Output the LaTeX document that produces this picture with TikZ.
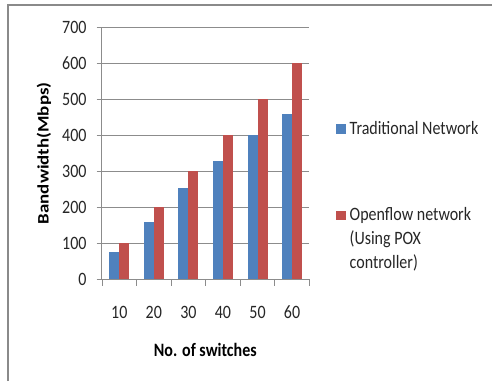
\documentclass[tikz,border=0pt]{standalone}
\usepackage{fontspec}
\setmainfont{Carlito}
\definecolor{blueb}{HTML}{4F81BD}
\definecolor{redb}{HTML}{C0504D}
\definecolor{gridc}{HTML}{8C8C8C}
\definecolor{framec}{HTML}{8A8A8A}
\newcommand{\vst}[1]{\scalebox{1}[1.18]{#1}}
\newcommand{\hst}[1]{\scalebox{1.18}[1]{#1}}
\begin{document}
\begin{tikzpicture}[x=1pt,y=-1pt,
  lbl/.style={font=\fontsize{16}{24.3}\selectfont, inner sep=0pt, text=black!85},
  ttl/.style={font=\fontsize{16}{19}\selectfont\bfseries, inner sep=0pt, text=black},
  grid line/.style={gridc, line width=0.8pt},
  bluebar/.style={fill=blueb},
  redbar/.style={fill=redb}]
\useasboundingbox (0,0) rectangle (492,381);
\fill[white] (0,0) rectangle (492,381);
\draw[framec, line width=1.6pt] (8,381) -- (8,4.8) -- (492,4.8);
% gridlines and y labels
\foreach \v in {0,100,...,700}{
  \draw[grid line] (96.5,{279.3-0.36*\v}) -- (309.3,{279.3-0.36*\v});
  \node[lbl, anchor=east] (y\v) at (86.7,{279.3-0.36*\v}) {\vst{\v}};
}
% axes
\draw[grid line] (101.5,27.3) -- (101.5,279.3);
\foreach \i in {0,...,6}{
  \draw[grid line] ({102+34.55*\i},279.3) -- ({102+34.55*\i},286);
}
% bars
\foreach \i/\b/\r/\c in {0/75/100/10,1/160/200/20,2/255/300/30,3/330/400/40,4/400/500/50,5/460/600/60}{
  \fill[bluebar] ({102+34.55*\i+7.3},279.3) rectangle ({102+34.55*\i+17.3},{279.3-0.36*\b});
  \fill[redbar] ({102+34.55*\i+17.3},279.3) rectangle ({102+34.55*\i+27.3},{279.3-0.36*\r});
  \node[lbl, anchor=base] (x\c) at ({102+34.55*\i+17.3},318.3) {\vst{\c}};
}
% axis titles
\node[ttl, rotate=90, anchor=base] (ytitle) at (48.5,153.3) {\hst{Bandwidth(Mbps)}};
\node[ttl, anchor=base] (xtitle) at (205.3,356.7) {\vst{No. of switches}};
% legend
\fill[bluebar] (336,124.3) rectangle (345.5,134);
\node[lbl, anchor=base west] (leg1) at (349.5,134) {\vst{Traditional Network}};
\fill[redbar] (336,210.5) rectangle (345.5,220);
\node[lbl, anchor=base west, align=left] (leg2) at (349.5,268.6) {\vst{Openflow network}\\\vst{(Using POX}\\\vst{controller)}};
\end{tikzpicture}
\end{document}
